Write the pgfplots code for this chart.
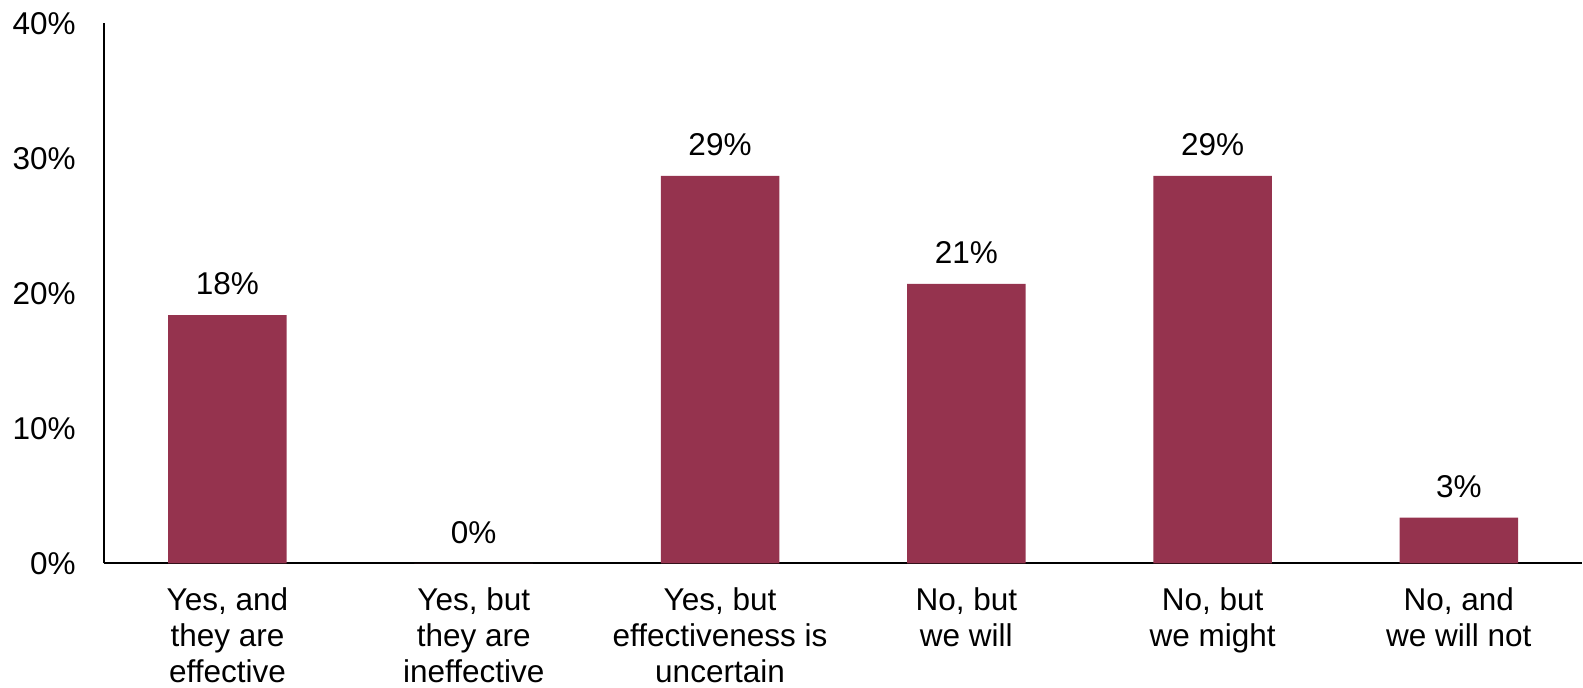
\documentclass[border=0pt]{standalone}
\usepackage{fontspec}
\setmainfont{Liberation Sans}
\usepackage{pgfplots}
\pgfplotsset{compat=1.18}
\definecolor{barred}{RGB}{149,51,78}
\newcommand\chartfont{\fontsize{15.75}{17.9}\selectfont}
\begin{document}
\begin{tikzpicture}
\chartfont
\begin{axis}[
  scale only axis,
  width=738.85pt, height=270.1pt,
  xmin=-0.5, xmax=5.5,
  ymin=0, ymax=40,
  axis x line=bottom, axis y line=left,
  axis line style={-, black, line width=1pt},
  major tick length=0pt,
  xtick=data,
  xticklabels={{Yes, and\\they are\\effective},{Yes, but\\they are\\ineffective},{Yes, but\\effectiveness is\\uncertain},{No, but\\we will},{No, but\\we might},{No, and\\we will not}},
  xticklabel style={align=center, anchor=north, inner sep=0pt, yshift=-12pt, font=\chartfont},
  ytick={0,10,20,30,40},
  yticklabel={\pgfmathprintnumber{\tick}\%},
  yticklabel style={anchor=east, inner sep=0pt, xshift=-14.15pt, font=\chartfont},
  /pgf/number format/assume math mode=true,
  ybar, bar width=59.25pt,
  nodes near coords={\pgfmathprintnumber[fixed,precision=0]{\pgfplotspointmeta}\%},
  every node near coord/.append style={anchor=south, inner sep=0pt, yshift=9.75pt, font=\chartfont, black},
  clip=false,
]
\addplot[fill=barred, draw=none] coordinates {
  (0, 18.4)
  (1, 0)
  (2, 28.7)
  (3, 20.7)
  (4, 28.7)
  (5, 3.4)
};
\end{axis}
\pgfresetboundingbox
\path (-52.15pt,-62.25pt) rectangle (739.35pt,281.75pt);
\end{tikzpicture}
\end{document}
